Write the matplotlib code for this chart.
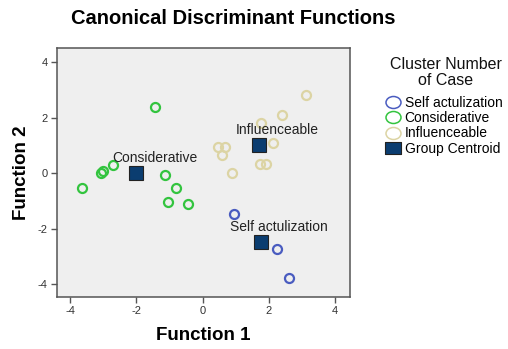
import matplotlib.pyplot as plt
from matplotlib.lines import Line2D
from matplotlib.path import Path
from matplotlib.transforms import Affine2D

plt.rcParams['font.family'] = ['Liberation Sans', 'DejaVu Sans']
plt.rcParams['axes.unicode_minus'] = False

# discriminant scores per cluster
self_x = [0.94, 2.24, 2.61]
self_y = [-1.46, -2.73, -3.77]

cons_x = [-1.45, -3.64, -3.08, -3.01, -2.71, -1.14, -0.80, -1.05, -0.45]
cons_y = [2.39, -0.54, 0.00, 0.06, 0.28, -0.07, -0.54, -1.04, -1.12]

infl_x = [3.13, 2.40, 1.76, 2.12, 0.47, 0.68, 0.59, 0.89, 1.72, 1.92]
infl_y = [2.81, 2.10, 1.81, 1.08, 0.94, 0.94, 0.65, 0.02, 0.34, 0.34]

centroid_names = ['Considerative', 'Influenceable', 'Self actulization']
centroid_x = [-2.00, 1.70, 1.75]
centroid_y = [0.00, 1.02, -2.47]

c_self = '#4a5cc0'
c_cons = '#33c43f'
c_infl = '#dcd4a4'
c_cent = '#0b3d70'

fig = plt.figure(figsize=(5.08, 3.49), dpi=100)
ax = fig.add_axes([0.112, 0.149, 0.577, 0.713])
ax.set_facecolor('#efefef')

ms = 6.5
ax.plot(cons_x, cons_y, 'o', ms=ms, mfc='none', mec=c_cons, mew=1.6, ls='none')
ax.plot(infl_x, infl_y, 'o', ms=ms, mfc='none', mec=c_infl, mew=1.6, ls='none')
ax.plot(self_x, self_y, 'o', ms=ms, mfc='none', mec=c_self, mew=1.6, ls='none')
ax.plot(centroid_x, centroid_y, 's', ms=10.5, mfc=c_cent, mec='#222222', mew=0.8, ls='none')

for name, x, y in zip(centroid_names, centroid_x, centroid_y):
    ax.annotate(name, (x, y), xytext=(13, 8), textcoords='offset points',
                ha='center', va='baseline', fontsize=10, color='#222222')

ax.set_xlim(-4.4, 4.45)
ax.set_ylim(-4.46, 4.5)
ax.set_xticks([-4, -2, 0, 2, 4])
ax.set_yticks([-4, -2, 0, 2, 4])
ax.tick_params(labelsize=8, length=4.5, width=1.0, pad=2,
               color='#555555', labelcolor='#333333')
for s in ax.spines.values():
    s.set_color('#555555')
    s.set_linewidth(1.1)

ax.set_xlabel('Function 1', fontsize=13.5, fontweight='bold', labelpad=8)
ax.set_ylabel('Function 2', fontsize=13.5, fontweight='bold', labelpad=6)
fig.text(0.459, 0.948, 'Canonical Discriminant Functions', ha='center', va='center',
         fontsize=14.5, fontweight='bold')

# legend: slightly wide legend keys like the SPSS output
ell = Affine2D().scale(1.25, 1.0).transform_path(Path.unit_circle())
rect = Path([(-1.23, -1), (1.23, -1), (1.23, 1), (-1.23, 1), (-1.23, -1)],
            [Path.MOVETO, Path.LINETO, Path.LINETO, Path.LINETO, Path.CLOSEPOLY])
handles = [
    Line2D([], [], marker=ell, ls='none', ms=10.8, mfc='none', mec=c_self, mew=1.1),
    Line2D([], [], marker=ell, ls='none', ms=10.8, mfc='none', mec=c_cons, mew=1.1),
    Line2D([], [], marker=ell, ls='none', ms=10.8, mfc='none', mec=c_infl, mew=1.1),
    Line2D([], [], marker=rect, ls='none', ms=11.5, mfc=c_cent, mec='#222222', mew=0.8),
]
labels = ['Self actulization', 'Considerative', 'Influenceable', 'Group Centroid']
fig.text(0.878, 0.792, 'Cluster Number\nof Case', ha='center', va='center',
         fontsize=11.5, linespacing=1.05, color='#111111')
fig.legend(handles, labels, loc='upper left', bbox_to_anchor=(0.758, 0.726),
           frameon=False, fontsize=10, handlelength=1.2, handletextpad=0.2,
           labelspacing=0.1, borderaxespad=0, borderpad=0)

fig.savefig('out.png', dpi=100)
